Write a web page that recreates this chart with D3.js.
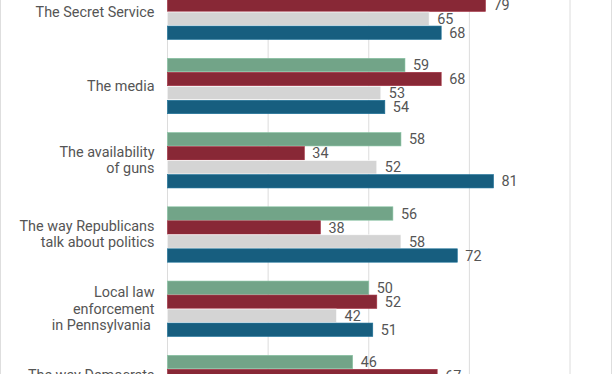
<!DOCTYPE html>
<html>
<head>
<meta charset="utf-8">
<script src="https://cdn.jsdelivr.net/npm/d3@7"></script>
<style>
  html, body { margin: 0; padding: 0; background: #fff; }
  svg { display: block; font-family: Roboto, "Noto Sans", sans-serif; }
</style>
</head>
<body>
<svg id="chart" width="612" height="374"></svg>
<script>
// ---- data ----
const categories = [
  ["The Secret Service"],
  ["The media"],
  ["The availability", "of guns"],
  ["The way Republicans", "talk about politics"],
  ["Local law", "enforcement", "in Pennsylvania "],
  ["The way Democrats", "talk about politics"]
];
const seriesNames = ["Total", "Republicans", "Independents", "Democrats"];
const seriesColors = ["#72a488", "#882836", "#d4d4d4", "#175e7f"];
const total        = [73, 59, 58, 56, 50, 46];
const republicans  = [79, 68, 34, 38, 52, 67];
const independents = [65, 53, 52, 58, 42, 45];
const democrats    = [68, 54, 81, 72, 51, 30];
const tickValues   = [0, 25, 50, 75, 100];

const seriesValues = [total, republicans, independents, democrats];

// ---- layout ----
const W = 612, H = 374;
const FS = 14.4;
const svg = d3.select("#chart");

const x = d3.scaleLinear().domain([0, 100]).range([167.5, 570]);

const step = 74.25, inner = 18.25 / 74.25, y0 = -16.25;
const keys = categories.map(c => c.join(" "));
const y = d3.scaleBand()
  .domain(keys)
  .range([y0, y0 + step * (keys.length - inner)])
  .paddingInner(inner)
  .paddingOuter(0);

const ys = d3.scaleBand()
  .domain(seriesNames)
  .range([0, y.bandwidth()])
  .padding(0);

// side borders
svg.append("line").attr("x1", 0.5).attr("x2", 0.5).attr("y1", 0).attr("y2", H)
  .attr("stroke", "#dedede").attr("stroke-width", 1);
svg.append("line").attr("x1", W - 0.5).attr("x2", W - 0.5).attr("y1", 0).attr("y2", H)
  .attr("stroke", "#dedede").attr("stroke-width", 1);

// gridlines
svg.append("g").selectAll("line")
  .data(tickValues)
  .join("line")
  .attr("x1", d => x(d)).attr("x2", d => x(d))
  .attr("y1", 0).attr("y2", H)
  .attr("stroke", "#dcdcdc")
  .attr("stroke-width", 1);

// groups
const groups = svg.append("g").selectAll("g")
  .data(categories.map((c, i) => ({
    key: keys[i],
    lines: c,
    values: seriesValues.map((s, j) => ({ name: seriesNames[j], color: seriesColors[j], v: s[i] }))
  })))
  .join("g")
  .attr("transform", d => `translate(0,${y(d.key)})`);

groups.selectAll("rect")
  .data(d => d.values)
  .join("rect")
  .attr("x", x(0))
  .attr("y", d => ys(d.name) + 0.3)
  .attr("width", d => x(d.v) - x(0))
  .attr("height", ys.bandwidth() - 0.6)
  .attr("fill", d => d.color)
  .attr("stroke", d => d3.color(d.color).brighter(0.5))
  .attr("stroke-width", 0.6);

groups.selectAll("text.val")
  .data(d => d.values)
  .join("text")
  .attr("class", "val")
  .attr("x", d => x(d.v) + 8)
  .attr("y", d => ys(d.name) + ys.bandwidth() / 2)
  .attr("dy", "0.36em")
  .attr("fill", "#555")
  .attr("font-size", FS)
  .text(d => d.v);

// category labels
const lh = 16.2;
groups.append("text")
  .attr("class", "cat")
  .attr("text-anchor", "end")
  .attr("fill", "#555")
  .attr("font-size", FS)
  .style("white-space", "pre")
  .selectAll("tspan")
  .data(d => d.lines.map((t, k) => ({ t, k, n: d.lines.length })))
  .join("tspan")
  .attr("x", x(0) - 13)
  .attr("y", d => y.bandwidth() / 2 + (d.k - (d.n - 1) / 2) * lh)
  .attr("dy", "0.33em")
  .text(d => d.t);
</script>
</body>
</html>
